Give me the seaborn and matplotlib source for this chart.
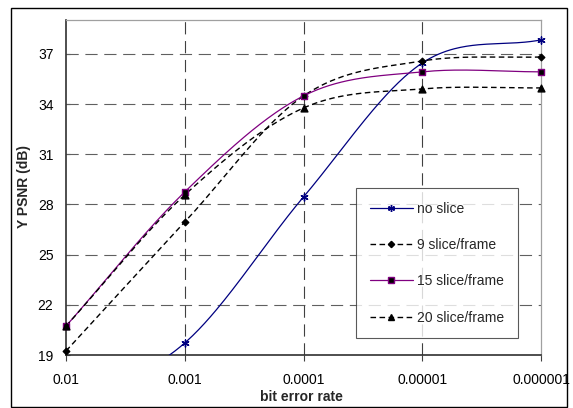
import numpy as np
import pandas as pd
import matplotlib
matplotlib.use("Agg")
import matplotlib.pyplot as plt
import seaborn as sns
from matplotlib.lines import Line2D
from matplotlib.patches import Rectangle

# ---------------- data ----------------
ber_labels = ["0.01", "0.001", "0.0001", "0.00001", "0.000001"]
no_slice = [16.0, 19.72, 28.45, 36.46, 37.84]
slice9 = [19.24, 26.95, 34.49, 36.58, 36.82]
slice15 = [20.73, 28.75, 34.49, 35.93, 35.93]
slice20 = [20.73, 28.57, 33.77, 34.91, 34.97]
series_names = ["no slice", "9 slice/frame", "15 slice/frame", "20 slice/frame"]
y_ticks = [19, 22, 25, 28, 31, 34, 37]

sns.set_theme(style="white")
plt.rcParams["font.family"] = ["Liberation Sans", "DejaVu Sans"]

W, H = 573, 408
fig = plt.figure(figsize=(W / 100, H / 100), dpi=100)
ax = fig.add_axes([66 / W, (H - 355) / H, (541 - 66) / W, (355 - 20) / H])


def smooth(vals, n=60):
    """Excel-like smoothed line (cubic Hermite / Catmull-Rom)."""
    y = np.asarray(vals, float)
    k = len(y)
    m = np.empty(k)
    m[1:-1] = (y[2:] - y[:-2]) / 2
    m[0] = y[1] - y[0]
    m[-1] = y[-1] - y[-2]
    xs, ys = [], []
    for i in range(k - 1):
        t = np.linspace(0, 1, n, endpoint=(i == k - 2))
        h00 = 2 * t**3 - 3 * t**2 + 1
        h10 = t**3 - 2 * t**2 + t
        h01 = -2 * t**3 + 3 * t**2
        h11 = t**3 - t**2
        xs.append(i + t)
        ys.append(h00 * y[i] + h10 * m[i] + h01 * y[i + 1] + h11 * m[i + 1])
    return np.concatenate(xs), np.concatenate(ys)


ymin, ymax = 19, 39.03
cats = np.arange(len(ber_labels))

styles = [
    dict(data=no_slice, color="#000080", ls="-", marker=(6, 2, 0), mfc="#000080", mec="#000080", s=26, lw=0.9, ms=5),
    dict(data=slice9, color="black", ls=(0, (4, 2.5)), marker="D", mfc="black", mec="black", s=11, lw=1.0, ms=3.2),
    dict(data=slice15, color="#800080", ls="-", marker="s", mfc="black", mec="#800080", s=20, lw=0.9, ms=4),
    dict(data=slice20, color="black", ls=(0, (4, 2.5)), marker="^", mfc="black", mec="black", s=24, lw=1.0, ms=4.5),
]

# gridlines
for yt in y_ticks[1:]:
    ax.axhline(yt, color="#606060", lw=0.8, ls=(0, (11, 6)), zorder=1)
for xc in cats[1:-1]:
    ax.axvline(xc, color="#404040", lw=0.8, ls=(0, (11, 6)), zorder=1)

handles = []
for name, st in zip(series_names, styles):
    xs, ys = smooth(st["data"])
    sns.lineplot(x=xs, y=ys, ax=ax, color=st["color"], lw=st["lw"],
                 linestyle=st["ls"], estimator=None, sort=False, zorder=3)
    vals = np.asarray(st["data"])
    vis = vals >= ymin
    sc = sns.scatterplot(x=cats[vis], y=vals[vis], ax=ax, marker=st["marker"],
                         color=st["mfc"], edgecolor=st["mec"], s=st["s"],
                         linewidth=1.0, zorder=4)
    sc.collections[-1].set_clip_on(False)
    handles.append(Line2D([], [], color=st["color"], lw=st["lw"], linestyle=st["ls"],
                          marker=st["marker"], markersize=st["ms"],
                          markerfacecolor=st["mfc"], markeredgecolor=st["mec"]))

ax.set_xlim(0, 4)
ax.set_ylim(ymin, ymax)
ax.set_xticks(cats)
ax.set_xticklabels(ber_labels)
ax.set_yticks(y_ticks)
ax.set_yticklabels([str(v) for v in y_ticks])
ax.tick_params(axis="x", direction="out", length=4, width=0.8, color="#404040",
               pad=9, labelsize=10, labelcolor="black", bottom=True)
ax.tick_params(axis="y", direction="in", length=3, width=0.8, color="#404040",
               pad=9, labelsize=10, labelcolor="black", left=True)
ax.set_xlabel("")
ax.set_ylabel("")

for sp in ["left", "bottom"]:
    ax.spines[sp].set_color("#303030")
    ax.spines[sp].set_linewidth(1.2)
for sp in ["top", "right"]:
    ax.spines[sp].set_color("#a0a0a0")
    ax.spines[sp].set_linewidth(0.9)

fig.text(301 / W, 1 - 397 / H, "bit error rate", ha="center", va="center",
         fontsize=10, fontweight="bold")
fig.text(24 / W, 1 - 187 / H, "Y PSNR (dB)", ha="center", va="center",
         rotation=90, fontsize=10, fontweight="bold")

leg = ax.legend(handles, series_names, loc="upper left",
                bbox_to_anchor=((356 - 66) / 475, (355 - 188) / 335),
                borderaxespad=0, frameon=True, fancybox=False, shadow=False,
                fontsize=10, labelspacing=1.6, handlelength=3.1,
                handletextpad=0.3, borderpad=1.0, numpoints=1)
leg.get_frame().set_edgecolor("#303030")
leg.get_frame().set_linewidth(0.8)
leg.get_frame().set_facecolor("white")
leg.set_zorder(10)

fig.patches.append(Rectangle((11 / W, 1 / H), 556 / W, 399 / H, transform=fig.transFigure,
                             fill=False, edgecolor="black", lw=1.0))

fig.savefig("out.png", dpi=100)
